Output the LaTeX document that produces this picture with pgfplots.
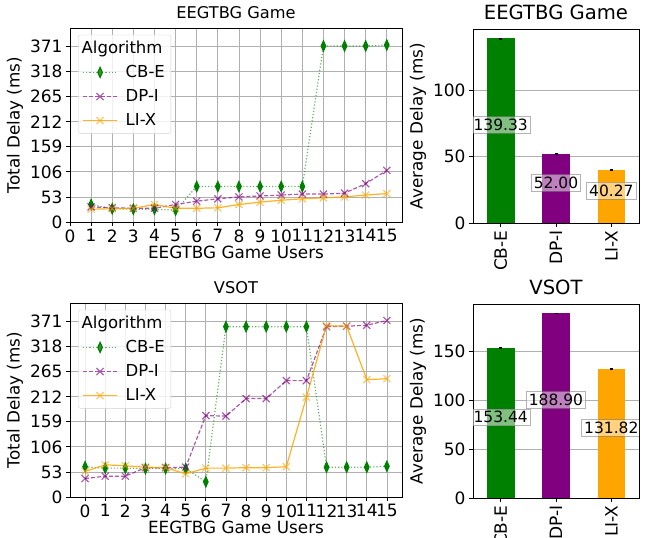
\documentclass[border=0pt]{standalone}
\usepackage{fontspec}
\setmainfont{DejaVu Sans}
\usepackage{pgfplots}
\pgfplotsset{compat=1.18}

\definecolor{cbe}{HTML}{008000}
\definecolor{dpi}{HTML}{800080}
\definecolor{lix}{HTML}{FFA500}
\definecolor{gridgray}{HTML}{B0B0B0}

\tikzset{
  valbox/.style={fill=white, fill opacity=0.5, text opacity=1,
    draw=gray, draw opacity=0.6, line width=0.8pt, anchor=base,
    inner sep=2.5pt, font=\fontsize{15.5}{18}\selectfont},
}

\pgfplotsset{
  base/.style={
    scale only axis,
    /pgf/number format/assume math mode=true,
    tick label style={font=\fontsize{17}{20}\selectfont},
    label style={font=\fontsize{16.8}{20}\selectfont},
    title style={font=\fontsize{16.2}{19}\selectfont},
    tick align=outside, tick pos=left, major tick length=4pt,
    axis line style={line width=0.8pt},
    every tick/.style={black, line width=0.8pt},
    grid style={gridgray, line width=0.8pt},
    ymin=0,
  },
  lineaxis/.style={
    base, width=332pt, height=194pt,
    xmajorgrids, ymajorgrids,
    ymax=410, xmax=15.72,
    ytick={0,53,106,159,212,265,318,371},
    xtick={0,...,15},
    xlabel={EEGTBG Game Users},
    ylabel={Total Delay (ms)},
    xlabel style={yshift=3pt},
    legend style={
      at={(0.025,0.965)}, anchor=north west,
      draw=gray!35, rounded corners=2pt,
      fill=white, fill opacity=0.8, text opacity=1,
      font=\fontsize{16.5}{19}\selectfont,
      cells={anchor=west}, row sep=6.5pt,
      inner xsep=4pt, inner ysep=4pt,
      /tikz/every odd column/.append style={column sep=6pt},
    },
    legend image code/.code={
      \draw[mark repeat=2, mark phase=2]
        plot coordinates {(0pt,0pt) (17pt,0pt) (34pt,0pt)};
    },
  },
  cbeplot/.style={cbe, draw opacity=0.6, line width=1.2pt, dotted,
    mark=diamond*, mark size=5pt,
    mark options={solid, xscale=0.6, fill=cbe, draw=cbe, draw opacity=1}},
  dpiplot/.style={dpi, opacity=0.65, line width=1.2pt,
    dash pattern=on 4pt off 2pt,
    mark=x, mark size=5pt, mark options={solid}},
  lixplot/.style={lix, opacity=0.85, line width=1.2pt,
    mark=x, mark size=5pt, mark options={solid, opacity=0.6}},
  baraxis/.style={
    base, width=166pt, height=194pt,
    ymajorgrids,
    xmin=-0.5, xmax=2.5,
    xtick={0,1,2}, xticklabels={CB-E,DP-I,LI-X},
    xticklabel style={rotate=90, anchor=east},
    ylabel={Average Delay (ms)},
    title style={font=\fontsize{19.6}{23}\selectfont},
  },
  errs/.style={error bars/.cd, y dir=both, y explicit,
    error bar style={black, line width=0.6pt},
    error mark options={black, rotate=90, mark size=1.5pt}},
}

\begin{document}
\begin{tikzpicture}
\path[use as bounding box] (0,0) rectangle (646pt,-538pt);

% ---------------- EEGTBG Game: total delay per number of users
\begin{axis}[lineaxis, at={(70pt,-222pt)}, anchor=south west,
  xmin=0, title={EEGTBG Game}]
\addlegendimage{empty legend}
\addlegendentry{\hspace*{-44pt}Algorithm}
\addplot[cbeplot] coordinates {
  (1,37) (2,28) (3,27) (4,27) (5,25) (6,75) (7,75) (8,75)
  (9,75) (10,75) (11,75) (12,372) (13,372) (14,372) (15,374)};
\addlegendentry{CB-E}
\addplot[dpiplot] coordinates {
  (1,32) (2,30) (3,29) (4,29) (5,37) (6,44) (7,49) (8,53)
  (9,55) (10,57) (11,59) (12,59) (13,61) (14,81) (15,109)};
\addlegendentry{DP-I}
\addplot[lixplot] coordinates {
  (1,27) (2,28) (3,29) (4,37) (5,29) (6,29) (7,30) (8,37)
  (9,42) (10,46) (11,49) (12,51) (13,53) (14,57) (15,60)};
\addlegendentry{LI-X}
\end{axis}

% ---------------- EEGTBG Game: average delay
\begin{axis}[baraxis, at={(473pt,-223pt)}, anchor=south west,
  ymax=146.3, ytick={0,50,100}, title={EEGTBG Game}]
\addplot[ybar, bar width=0.5, fill=cbe, draw=none, errs]
  coordinates {(0,139.33) +- (0,0.4)};
\addplot[ybar, bar width=0.5, fill=dpi, draw=none, errs]
  coordinates {(1,52.00) +- (0,0.4)};
\addplot[ybar, bar width=0.5, fill=lix, draw=none, errs]
  coordinates {(2,40.27) +- (0,0.4)};
\node[valbox] at (axis cs:0,69.665) {139.33};
\node[valbox] at (axis cs:1,26.00) {52.00};
\node[valbox] at (axis cs:2,20.135) {40.27};
\end{axis}

% ---------------- VSOT: total delay per number of users
\begin{axis}[lineaxis, at={(70pt,-497pt)}, anchor=south west,
  xmin=-0.75, xmax=15.75, title={VSOT}]
\addlegendimage{empty legend}
\addlegendentry{\hspace*{-44pt}Algorithm}
\addplot[cbeplot] coordinates {
  (0,64) (1,61) (2,61) (3,60) (4,60) (5,60) (6,32) (7,360)
  (8,360) (9,360) (10,360) (11,360) (12,63) (13,63) (14,63) (15,65)};
\addlegendentry{CB-E}
\addplot[dpiplot] coordinates {
  (0,39) (1,44) (2,44) (3,62) (4,62) (5,63) (6,172) (7,171)
  (8,208) (9,208) (10,246) (11,246) (12,360) (13,361) (14,363) (15,373)};
\addlegendentry{DP-I}
\addplot[lixplot] coordinates {
  (0,54) (1,68) (2,66) (3,63) (4,62) (5,49) (6,61) (7,61)
  (8,62) (9,62) (10,64) (11,211) (12,362) (13,361) (14,248) (15,250)};
\addlegendentry{LI-X}
\end{axis}

% ---------------- VSOT: average delay
\begin{axis}[baraxis, at={(473pt,-498pt)}, anchor=south west,
  ymax=198.3, ytick={0,50,100,150}, title={VSOT}]
\addplot[ybar, bar width=0.5, fill=cbe, draw=none, errs]
  coordinates {(0,153.44) +- (0,0.4)};
\addplot[ybar, bar width=0.5, fill=dpi, draw=none, errs]
  coordinates {(1,188.90) +- (0,0.4)};
\addplot[ybar, bar width=0.5, fill=lix, draw=none, errs]
  coordinates {(2,131.82) +- (0,0.4)};
\node[valbox] at (axis cs:0,76.72) {153.44};
\node[valbox] at (axis cs:1,94.45) {188.90};
\node[valbox] at (axis cs:2,65.91) {131.82};
\end{axis}
\end{tikzpicture}
\end{document}
